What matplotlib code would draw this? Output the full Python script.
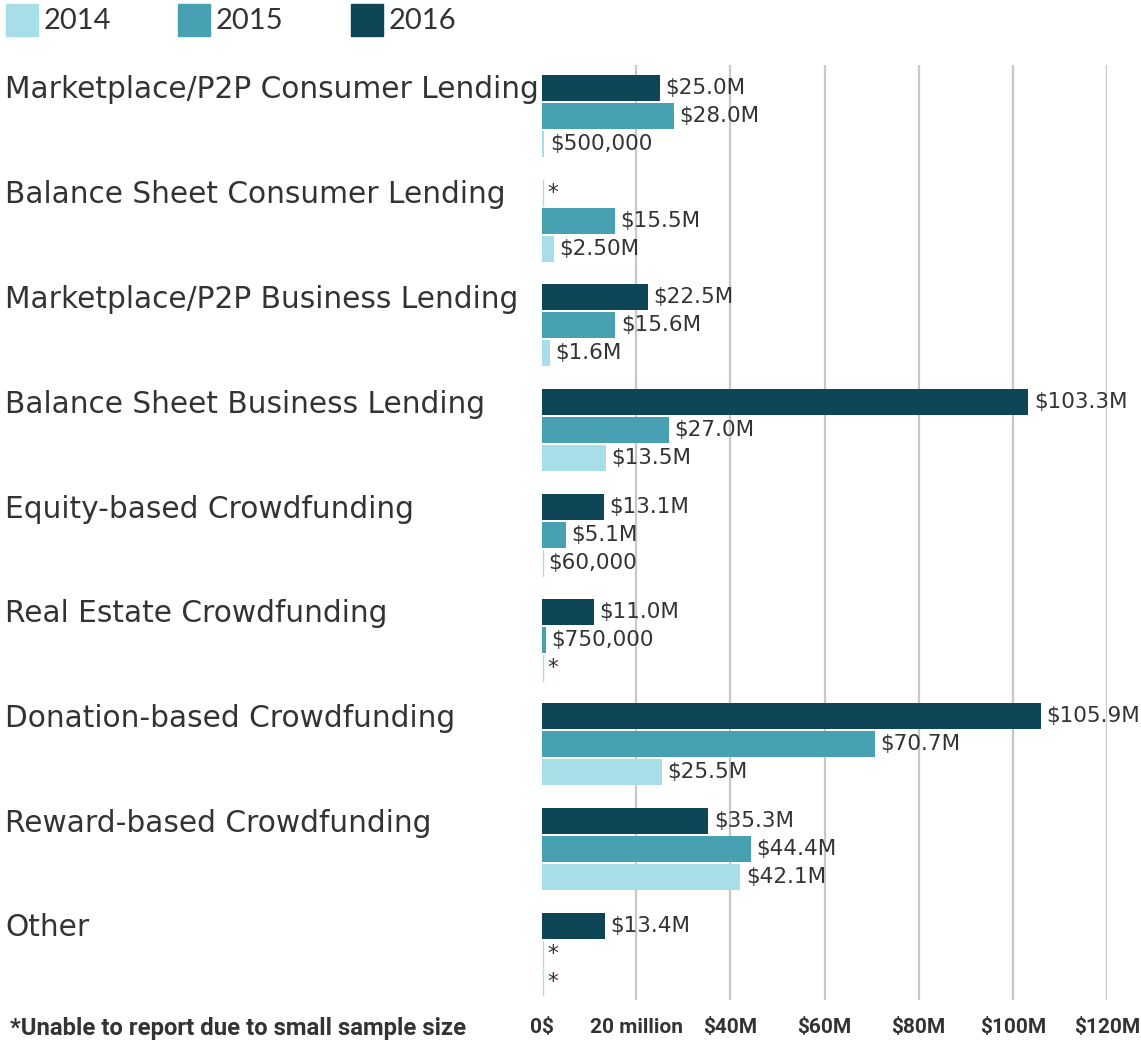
import matplotlib.pyplot as plt
import numpy as np

# data (millions of $); None = not reported
categories = ['Marketplace/P2P Consumer Lending', 'Balance Sheet Consumer Lending',
              'Marketplace/P2P Business Lending', 'Balance Sheet Business Lending',
              'Equity-based Crowdfunding', 'Real Estate Crowdfunding',
              'Donation-based Crowdfunding', 'Reward-based Crowdfunding', 'Other']
v2014 = [0.5, 2.5, 1.6, 13.5, 0.06, None, 25.5, 42.1, None]
v2015 = [28.0, 15.5, 15.6, 27.0, 5.1, 0.75, 70.7, 44.4, None]
v2016 = [25.0, None, 22.5, 103.3, 13.1, 11.0, 105.9, 35.3, 13.4]
l2014 = ['$500,000', '$2.50M', '$1.6M', '$13.5M', '$60,000', '*', '$25.5M', '$42.1M', '*']
l2015 = ['$28.0M', '$15.5M', '$15.6M', '$27.0M', '$5.1M', '$750,000', '$70.7M', '$44.4M', '*']
l2016 = ['$25.0M', '*', '$22.5M', '$103.3M', '$13.1M', '$11.0M', '$105.9M', '$35.3M', '$13.4M']
years = ['2014', '2015', '2016']
ticks = [0, 20, 40, 60, 80, 100, 120]
tick_labels = ['0$', '20 million', '$40M', '$60M', '$80M', '$100M', '$120M']

colors = {'2014': '#a8dee7', '2015': '#48a1b3', '2016': '#0f4657'}
txt = '#333333'
font = 'DejaVu Sans'
narrow = ['Liberation Sans Narrow', 'Roboto']

fig = plt.figure(figsize=(11.41, 10.41), dpi=100)
W, H = 1141, 1041
ax = fig.add_axes([542 / W, 1 - 1000 / H, (1107 - 542) / W, (1000 - 65) / H])

y = np.arange(len(categories))
h = 26 / 104.75
step = 28 / 104.75
series = [(v2016, l2016, '2016', -step), (v2015, l2015, '2015', 0), (v2014, l2014, '2014', step)]
for vals, labs, yr, off in series:
    for i, (v, lab) in enumerate(zip(vals, labs)):
        val = 0 if v is None else v
        ax.barh(y[i] + off, val, height=h, color=colors[yr], zorder=3)
        if v is None or v < 0.3:
            ax.plot([0.15, 0.15], [y[i] + off - h / 2, y[i] + off + h / 2],
                    color=colors['2014'], lw=1, zorder=3)
        ax.annotate(lab, (val, y[i] + off), xytext=(4, 0), textcoords='offset points',
                    va='center', ha='left', fontsize=15.5, color=txt, family=font)

for i, c in enumerate(categories):
    fig.text(5 / W, 1 - (90 + i * 104.75) / H, c, fontsize=21.3, color=txt,
             family=font, va='center', ha='left')

ax.set_xlim(0, 120)
ax.set_ylim(8.44, -0.487)
ax.set_xticks(ticks)
ax.set_xticklabels(tick_labels, fontsize=15, fontweight='bold', color=txt, family=narrow)
ax.set_yticks([])
ax.tick_params(axis='x', length=0, pad=13)
for s in ax.spines.values():
    s.set_visible(False)
ax.set_axisbelow(True)
for t in ticks[1:]:
    ax.axvline(t, color='#c8c8c8', lw=1.6, zorder=0)

fig.text(10 / W, 1 - 1029 / H, '*Unable to report due to small sample size', fontsize=17.2,
         fontweight='bold', color=txt, family=narrow, va='center', ha='left')

# legend
for yr, x0 in zip(years, [6, 178, 351]):
    fig.patches.append(plt.Rectangle((x0 / W, 1 - 36 / H), 32 / W, 32 / H,
                                     transform=fig.transFigure, color=colors[yr]))
    fig.text((x0 + 38) / W, 1 - 21 / H, yr, fontsize=21, color=txt, family='Lato',
             va='center', ha='left')

fig.savefig('out.png', dpi=100)
